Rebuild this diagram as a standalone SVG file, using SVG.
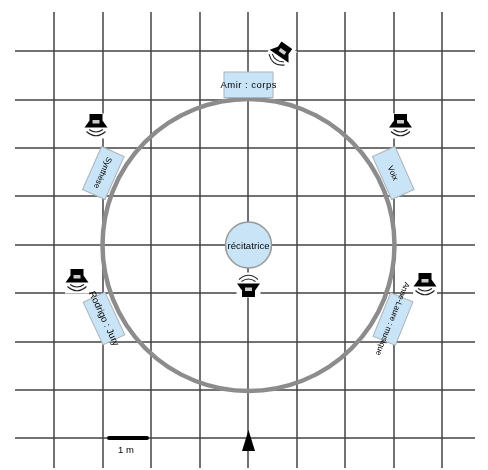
<svg xmlns="http://www.w3.org/2000/svg" width="488" height="470" viewBox="0 0 488 470">
<style>
.g{stroke:#444;stroke-width:1.5;fill:none}
.b{fill:#c9e4f6;stroke:#aab4bc;stroke-width:1}
.t{font-family:"Liberation Sans",Arial,sans-serif;font-size:9.5px;fill:#000;text-anchor:middle}
.s{font-size:8px}
</style>
<defs>
<filter id="soft" x="-5%" y="-5%" width="110%" height="110%"><feGaussianBlur stdDeviation="0.5"/></filter>
<g id="spk">
<rect x="-12" y="-12.5" width="24" height="25" fill="#fff"/>
<path d="M-6.500 -12H6.500V-5.500L11.500 1.500H-11.500L-6.500 -5.500Z" fill="#000"/>
<rect x="-3.500" y="-6" width="7" height="3.500" fill="#ccc"/>
<path d="M-7 3.500Q0 8.500 7 3.500M-9.500 5.500Q0 14 9.500 5.500" fill="none" stroke="#222" stroke-width="1.100"/>
</g>
</defs>
<rect width="488" height="470" fill="#fff"/>
<g filter="url(#soft)">
<g id="connectors">
<path class="g" d="M54 12V468M103 12V468M151 12V468M200 12V468M248 12V468M297 12V468M345 12V468M394 12V468M442 12V468"/>
<path class="g" d="M15 51H475M15 100H475M15 148H475M15 196H475M15 245H475M15 293H475M15 342H475M15 390H475M15 438H475"/>
<circle cx="248.500" cy="245" r="146" fill="none" stroke="#8c8c8c" stroke-width="4.500"/>
<path d="M109 438H147" stroke="#000" stroke-width="4" stroke-linecap="round"/>
<path d="M248.500 430L255 451H242Z" fill="#000"/>
</g>
<g id="node-top"><rect class="b" x="224" y="72" width="49" height="25.500"/><text class="t" x="248.500" y="88" textLength="56">Amir : corps</text></g>
<g id="node-ul"><g transform="translate(103.300,173) rotate(114)"><rect class="b" x="-23.500" y="-12.300" width="47" height="24.600"/><text class="t s" y="3">Synthèse</text></g></g>
<g id="node-ur"><g transform="translate(393.300,173) rotate(66)"><rect class="b" x="-23.500" y="-12.300" width="47" height="24.600"/><text class="t s" y="3">Voix</text></g></g>
<g id="node-ll"><g transform="translate(104,318.500) rotate(65)"><rect class="b" x="-23.500" y="-12" width="47" height="24"/><text class="t" y="3">Rodrigo : Jury</text></g></g>
<g id="node-lr"><g transform="translate(393,319) rotate(112)"><rect class="b" x="-23.500" y="-12" width="47" height="24"/><text class="t s" y="3">Anne-Laure : musique</text></g></g>
<g id="node-center"><circle cx="248.500" cy="245" r="23" fill="#c9e4f6" stroke="#999" stroke-width="1.500"/><text class="t" x="248.500" y="248.500" textLength="42">récitatrice</text></g>
<g id="spk-top"><use href="#spk" transform="translate(280,55) rotate(35)"/></g>
<g id="spk-ul"><use href="#spk" transform="translate(96,126)"/></g>
<g id="spk-ur"><use href="#spk" transform="translate(400.500,126)"/></g>
<g id="spk-ll"><use href="#spk" transform="translate(77,281)"/></g>
<g id="spk-lr"><use href="#spk" transform="translate(425,285)"/></g>
<g id="spk-c"><use href="#spk" transform="translate(248.500,285) rotate(180)"/></g>
<g id="scale"><text class="t" x="126" y="453">1 m</text></g>
</g>
</svg>
